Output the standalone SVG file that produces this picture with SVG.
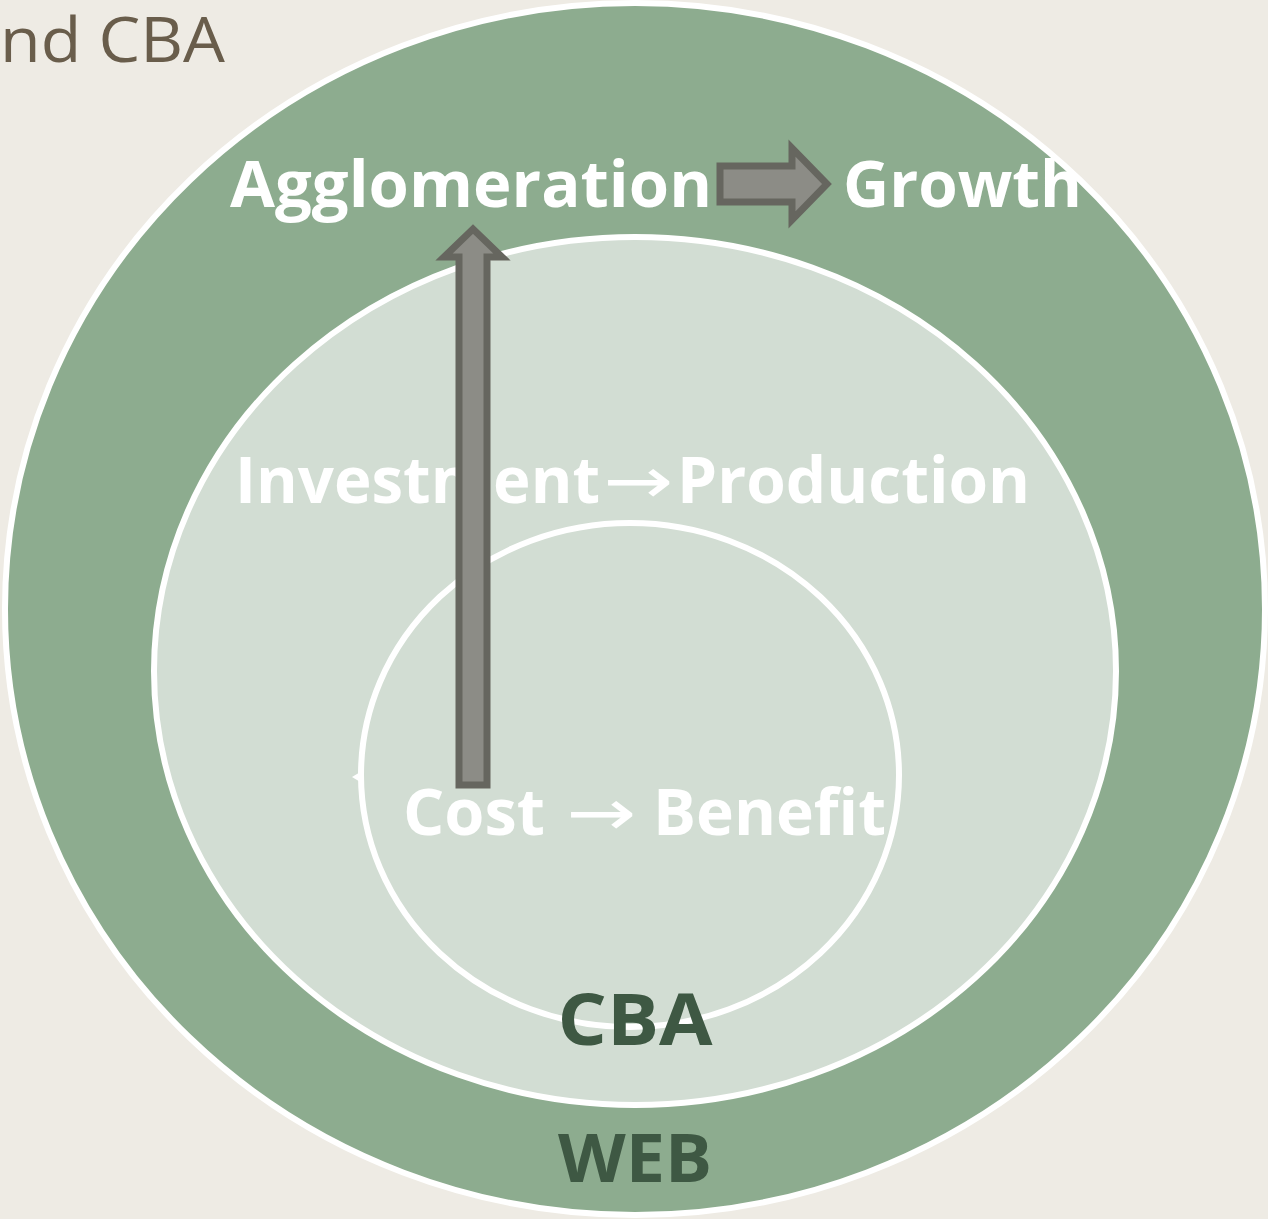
<svg xmlns="http://www.w3.org/2000/svg" width="1268" height="1219" viewBox="0 0 1268 1219">
<style>
.ring{stroke:#ffffff;stroke-width:6}
.w{fill:#ffffff;font-family:"Open Sans","Liberation Sans",sans-serif;font-weight:700}
.a{font-family:"DejaVu Sans",sans-serif;font-weight:400}
.d{fill:#3E5843;font-family:"Open Sans","Liberation Sans",sans-serif;font-weight:700}
.arr{fill:#8C8C86;stroke:#66665F;stroke-width:7;stroke-linejoin:miter}
</style>
<rect width="1268" height="1219" fill="#EEEBE4"/>
<text x="0" y="62" font-family="'Open Sans','Liberation Sans',sans-serif" font-size="62" fill="#695D4B" textLength="225" lengthAdjust="spacingAndGlyphs">nd CBA</text>
<g id="web">
<ellipse class="ring" cx="635" cy="609" rx="630" ry="606" fill="#8DAC8F"/>
<text class="d" x="635" y="1182" font-size="66" text-anchor="middle" textLength="154" lengthAdjust="spacingAndGlyphs">WEB</text>
</g>
<g id="middle">
<ellipse class="ring" cx="635" cy="671" rx="481" ry="434" fill="#D2DDD3"/>
</g>
<g id="inner">
<ellipse class="ring" cx="630" cy="775" rx="269" ry="252" fill="#D2DDD3"/>
<polygon points="352,777 362,771 362,783" fill="#ffffff"/>
<text class="d" x="635" y="1045" font-size="72" text-anchor="middle" textLength="155" lengthAdjust="spacingAndGlyphs">CBA</text>
</g>
<g id="agglomeration"><text class="w" x="230" y="207" font-size="64" textLength="482" lengthAdjust="spacingAndGlyphs">Agglomeration</text></g>
<g id="growth"><text class="w" x="843" y="207" font-size="64" textLength="239" lengthAdjust="spacingAndGlyphs">Growth</text></g>
<g id="investment"><text class="w" y="503" font-size="64"><tspan x="235" textLength="365" lengthAdjust="spacingAndGlyphs">Investment</tspan><tspan class="a" x="603" textLength="70" lengthAdjust="spacingAndGlyphs">→</tspan><tspan x="677" textLength="353" lengthAdjust="spacingAndGlyphs">Production</tspan></text></g>
<g id="cost"><text class="w" y="835" font-size="64"><tspan x="403" textLength="142" lengthAdjust="spacingAndGlyphs">Cost</tspan><tspan class="a" x="566" textLength="70" lengthAdjust="spacingAndGlyphs">→</tspan><tspan x="653" textLength="233" lengthAdjust="spacingAndGlyphs">Benefit</tspan></text></g>
<g id="connectors">
<polygon class="arr" points="459,785 459,257 444,257 473,229 502,257 487,257 487,785"/>
<polygon class="arr" points="720,166 792,166 792,148 827,184 792,220 792,202 720,202"/>
</g>
</svg>
